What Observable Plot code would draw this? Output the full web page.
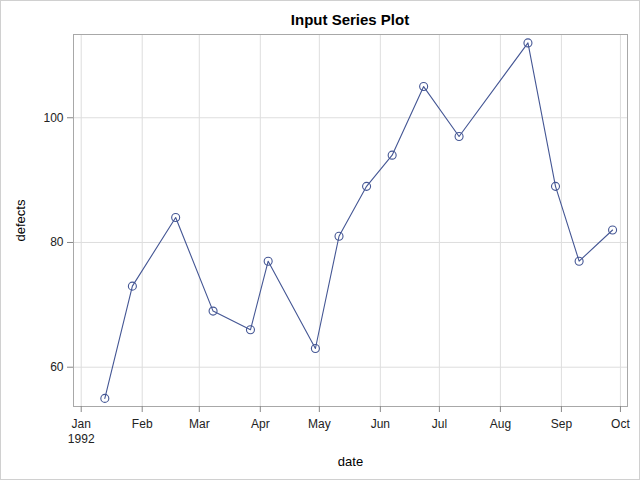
<!DOCTYPE html>
<html>
<head>
<meta charset="utf-8">
<script src="https://cdn.jsdelivr.net/npm/d3@7"></script>
<script src="https://cdn.jsdelivr.net/npm/@observablehq/plot@0.6"></script>
<style>
  html, body { margin: 0; padding: 0; background: #fff; }
  #wrap { position: relative; width: 640px; height: 480px; overflow: hidden; font-family: "Liberation Sans", Arial, sans-serif; }
  #wrap svg { position: absolute; left: 0; top: 0; }
  #title { position: absolute; left: 73px; width: 554px; top: 11px; margin: 0; text-align: center; font-size: 15px; font-weight: bold; color: #000; }
  #border { position: absolute; left: 0; top: 0; width: 638px; height: 478px; border: 1px solid #d0d0d0; pointer-events: none; }
</style>
</head>
<body>
<div id="wrap">
  <div id="chart"></div>
  <h2 id="title">Input Series Plot</h2>
  <div id="border"></div>
</div>
<script>
const dates = ["1992-01-13","1992-01-27","1992-02-18","1992-03-08","1992-03-27","1992-04-05","1992-04-29","1992-05-11","1992-05-25","1992-06-07","1992-06-23","1992-07-11","1992-08-15","1992-08-29","1992-09-10","1992-09-27"];
const defects = [55,73,84,69,66,77,63,81,89,94,105,97,112,89,77,82];
const xTicks = ["1992-01-01","1992-02-01","1992-03-01","1992-04-01","1992-05-01","1992-06-01","1992-07-01","1992-08-01","1992-09-01","1992-10-01"];
const xTickLabels = ["Jan\n1992","Feb","Mar","Apr","May","Jun","Jul","Aug","Sep","Oct"];
const yTicks = [60, 80, 100];

const data = dates.map((d, i) => ({date: new Date(d), defects: defects[i]}));
const tickDates = xTicks.map(d => new Date(d));
const fmt = d => {
  const i = tickDates.findIndex(t => +t === +d);
  return i >= 0 ? xTickLabels[i] : "";
};

const color = "#445694";
const chart = Plot.plot({
  width: 640,
  height: 480,
  marginLeft: 73,
  marginRight: 13,
  marginTop: 34,
  marginBottom: 74,
  style: {fontFamily: "'Liberation Sans', Arial, sans-serif", fontSize: "12px", color: "#000", background: "transparent", overflow: "visible"},
  x: {type: "utc", domain: [new Date(Date.UTC(1991, 11, 28, 2)), new Date(Date.UTC(1992, 9, 4, 14))]},
  y: {domain: [53.7, 113.35]},
  marks: [
    Plot.gridX(tickDates, {stroke: "#dedede", strokeOpacity: 1}),
    Plot.gridY(yTicks, {stroke: "#dedede", strokeOpacity: 1}),
    Plot.frame({stroke: "#a8a8a8"}),
    Plot.axisX(tickDates, {tickFormat: fmt, tickSize: 6, tickPadding: 5, lineHeight: 1.25, stroke: "#888", fill: "#222", fontSize: 12, label: "date", labelAnchor: "center", labelOffset: 59, labelArrow: false}),
    Plot.axisY(yTicks, {tickSize: 6, tickPadding: 4, stroke: "#888", fill: "#222", fontSize: 12, label: "defects", labelAnchor: "center", labelOffset: 58, labelArrow: false}),
    Plot.line(data, {x: "date", y: "defects", stroke: color, strokeWidth: 1.1}),
    Plot.dot(data, {x: "date", y: "defects", r: 4, stroke: color, fill: "none", strokeWidth: 1.1})
  ]
});
document.getElementById("chart").appendChild(chart);
// axis label font sizes
chart.querySelectorAll("g[aria-label='x-axis label'] text, g[aria-label='y-axis label'] text").forEach(t => { t.setAttribute("font-size", 13); t.setAttribute("fill", "#000"); });
</script>
</body>
</html>
